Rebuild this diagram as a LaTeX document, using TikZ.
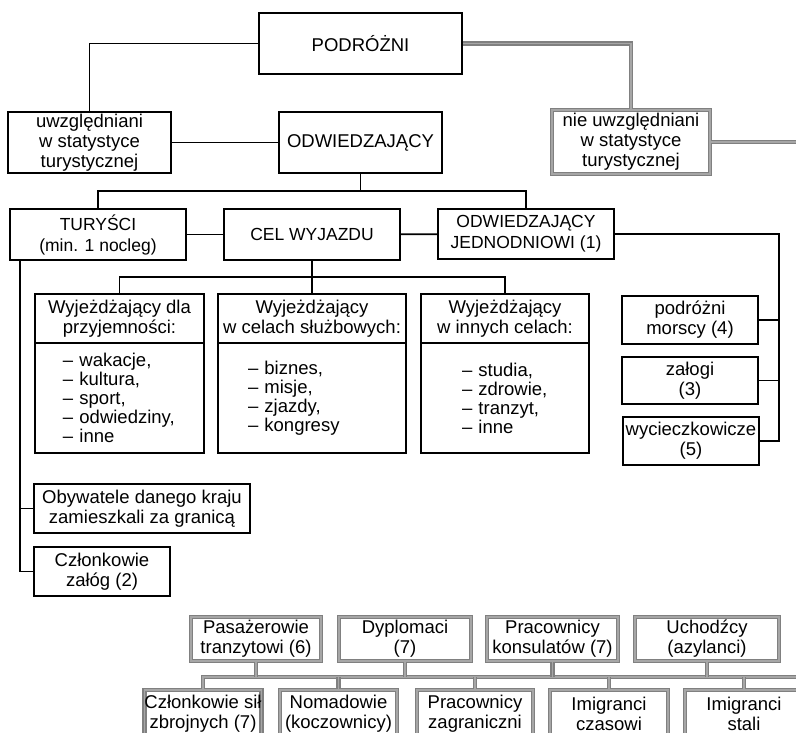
\documentclass[tikz,border=0pt]{standalone}
\usepackage{fontspec}
\setmainfont{Liberation Sans}

\begin{document}
\begin{tikzpicture}[
    x=1bp, y=-1bp,
    box/.style={rectangle, draw, line width=1.7bp, align=center, inner sep=0pt, font=\fontsize{18.5bp}{20bp}\selectfont},
    smallbox/.style={box, font=\fontsize{17.5bp}{21bp}\selectfont},
    gbox/.style={box, draw=gray, line width=1.5bp, double=gray!70, double distance=1.4bp},
    listbox/.style={box, align=left, minimum height=110bp, font=\fontsize{18.5bp}{19bp}\selectfont},
    link/.style={line width=1.7bp},
    glink/.style={line width=1.5bp, draw=gray, double=gray!70, double distance=1.4bp}
]
    \useasboundingbox (0,0) rectangle (796,733);
    \clip (0,0) rectangle (796,733);

    \node[box, minimum width=203bp, minimum height=61bp] (podrozni) at (360.5,43.5) {PODRÓŻNI};
    \node[box, minimum width=163bp, minimum height=61bp] (uwzgl) at (89.5,142.5) {uwzględniani\\w statystyce\\turystycznej};
    \node[box, minimum width=163bp, minimum height=61bp] (odwiedz) at (360.5,142.5) {ODWIEDZAJĄCY};
    \node[gbox, minimum width=158bp, minimum height=64bp] (nieuwzgl) at (631,142) {nie uwzględniani\\w statystyce\\turystycznej};

    \node[smallbox, minimum width=176bp, minimum height=51bp] (turysci) at (98,234.5) {TURYŚCI\\(min. 1 nocleg)};
    \node[smallbox, minimum width=176bp, minimum height=51bp] (cel) at (312,234.5) {CEL WYJAZDU};
    \node[smallbox, minimum width=176bp, minimum height=50bp] (jedn) at (526,234) {ODWIEDZAJĄCY\\JEDNODNIOWI (1)};

    % cele wyjazdu
    \node[box, minimum width=169bp, minimum height=49bp] (cat1) at (119.5,318.5) {Wyjeżdżający dla\\przyjemności:};
    \node[listbox, minimum width=169bp, text width=113bp] (cat1list) at (119.5,398) {– wakacje,\\– kultura,\\– sport,\\– odwiedziny,\\– inne};
    \node[box, minimum width=188bp, minimum height=49bp] (cat2) at (312,318.5) {Wyjeżdżający\\w celach służbowych:};
    \node[listbox, minimum width=188bp, text width=128bp] (cat2list) at (312,398) {– biznes,\\– misje,\\– zjazdy,\\– kongresy};
    \node[box, minimum width=168bp, minimum height=49bp] (cat3) at (505,318.5) {Wyjeżdżający\\w innych celach:};
    \node[listbox, minimum width=168bp, text width=86bp] (cat3list) at (505,398) {– studia,\\– zdrowie,\\– tranzyt,\\– inne};

    \node[box, minimum width=136bp, minimum height=48bp] (morscy) at (690,320) {podróżni\\morscy (4)};
    \node[box, minimum width=136bp, minimum height=47bp] (zalogi) at (690,380.5) {załogi\\(3)};
    \node[box, minimum width=136bp, minimum height=48bp] (wyciecz) at (691,441) {wycieczkowicze\\(5)};

    \node[box, minimum width=216bp, minimum height=49bp] (obyw) at (142,508.5) {Obywatele danego kraju\\zamieszkali za granicą};
    \node[box, minimum width=136bp, minimum height=49bp] (czlonk) at (102,571.5) {Członkowie\\załóg (2)};

    % nie uwzgledniani
    \node[gbox, minimum width=130bp, minimum height=44bp] (pasaz) at (256,639) {Pasażerowie\\tranzytowi (6)};
    \node[gbox, minimum width=132bp, minimum height=44bp] (dypl) at (405,639) {Dyplomaci\\(7)};
    \node[gbox, minimum width=131bp, minimum height=44bp] (konsul) at (552.5,639) {Pracownicy\\konsulatów (7)};
    \node[gbox, minimum width=144bp, minimum height=44bp] (uchodz) at (707,639) {Uchodźcy\\(azylanci)};
    \node[gbox, minimum width=116bp, minimum height=48bp] (czlsil) at (203,714) {Członkowie sił\\zbrojnych (7)};
    \node[gbox, minimum width=117bp, minimum height=48bp] (nomad) at (338.5,714) {Nomadowie\\(koczownicy)};
    \node[gbox, minimum width=116bp, minimum height=48bp] (pracz) at (475,714) {Pracownicy\\zagraniczni};
    \node[gbox, minimum width=118bp, minimum height=48bp] (imczas) at (609,714) {Imigranci\\czasowi};
    \node[gbox, minimum width=118bp, minimum height=48bp] (imstal) at (744,714) {Imigranci\\stali};

    \coordinate (redge) at (800,142);
    \coordinate (j1) at (360.5,191);
    \coordinate (j2) at (312,277);
    \coordinate (rbus) at (779,0);
    \coordinate (lbus) at (20,0);
    \coordinate (bbus) at (0,677);
    \coordinate (bedge) at (800,677);

    \draw[link] (podrozni.west) -| (uwzgl.north);
    \draw[link] (uwzgl) -- (odwiedz);
    \draw[glink] (podrozni.east) -| (nieuwzgl.north);
    \draw[glink] (nieuwzgl.east) -- (redge);

    \draw[link] (odwiedz.south) -- (j1);
    \draw[link] (turysci.north) |- (j1) -| (jedn.north);
    \draw[link] (turysci) -- (cel);
    \draw[link] (cel) -- (jedn);

    \draw[link] (cel.south) -- (j2);
    \draw[link] (cat1.north) |- (j2) -| (cat3.north);
    \draw[link] (j2) -- (cat2.north);

    \draw[link] (jedn.east) -| (rbus |- wyciecz.east) -- (wyciecz.east);
    \draw[link] (morscy.east) -- (rbus |- morscy.east);
    \draw[link] (zalogi.east) -- (rbus |- zalogi.east);

    \draw[link] (lbus |- turysci.south) |- (czlonk.west);
    \draw[link] (obyw.west) -- (lbus |- obyw.west);

    \draw[glink] (czlsil.north) |- (bedge);
    \draw[glink] (pasaz.south) -- (pasaz.south |- bbus);
    \draw[glink] (dypl.south) -- (dypl.south |- bbus);
    \draw[glink] (konsul.south) -- (konsul.south |- bbus);
    \draw[glink] (uchodz.south) -- (uchodz.south |- bbus);
    \draw[glink] (nomad.north) -- (nomad.north |- bbus);
    \draw[glink] (pracz.north) -- (pracz.north |- bbus);
    \draw[glink] (imczas.north) -- (imczas.north |- bbus);
    \draw[glink] (imstal.north) -- (imstal.north |- bbus);
\end{tikzpicture}
\end{document}
